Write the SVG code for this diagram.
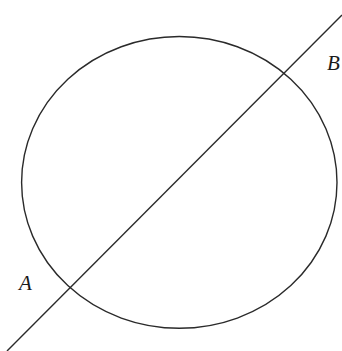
<svg xmlns="http://www.w3.org/2000/svg" width="342" height="351" viewBox="0 0 342 351">
<style>
.shape{fill:none;stroke:#2a2a2a;stroke-width:1.4}
.lbl{font-family:"Liberation Serif","Times New Roman",serif;font-style:italic;font-size:21px;fill:#1a1a1a}
</style>
<rect width="342" height="351" fill="#fff"/>
<g id="circle"><ellipse class="shape" cx="179.3" cy="182.4" rx="157.7" ry="145.9"/></g>
<g id="connectors"><line class="shape" x1="7" y1="351" x2="342" y2="15"/></g>
<g id="label-A"><text class="lbl" x="19" y="290">A</text></g>
<g id="label-B"><text class="lbl" x="327" y="70">B</text></g>
</svg>
